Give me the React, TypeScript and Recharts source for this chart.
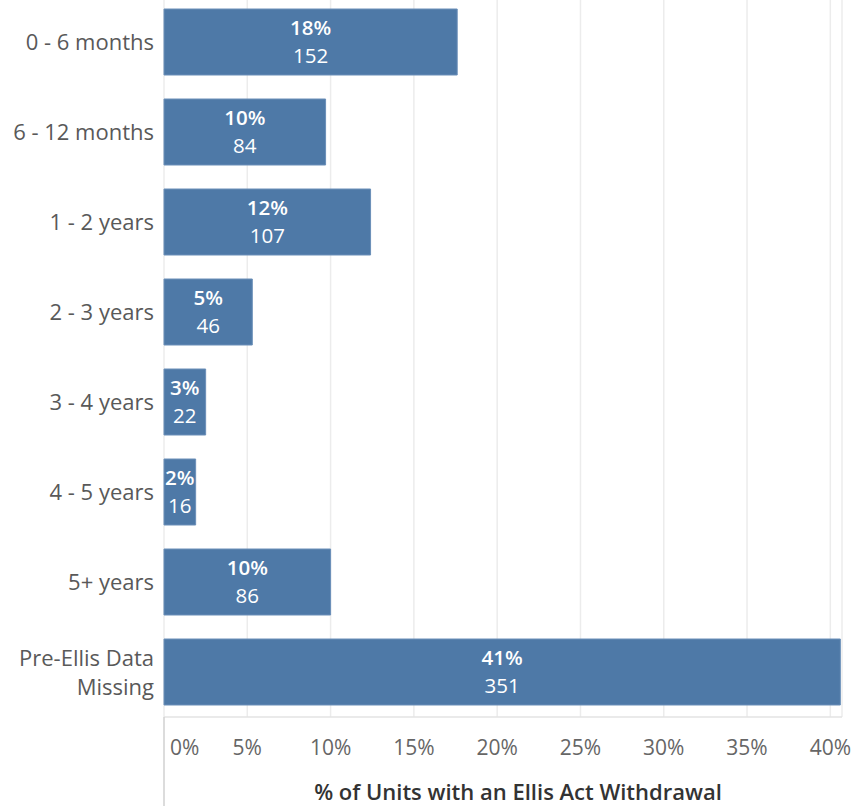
import { BarChart, Bar, XAxis, YAxis, CartesianGrid, LabelList } from 'recharts';

const categories = ['0 - 6 months', '6 - 12 months', '1 - 2 years', '2 - 3 years', '3 - 4 years', '4 - 5 years', '5+ years', 'Pre-Ellis Data\nMissing'];
const pctValues = [17.6, 9.7, 12.4, 5.3, 2.5, 1.9, 10.0, 40.6];
const pctLabels = ['18%', '10%', '12%', '5%', '3%', '2%', '10%', '41%'];
const counts = [152, 84, 107, 46, 22, 16, 86, 351];
const xTicks = [0, 5, 10, 15, 20, 25, 30, 35, 40];

const chartData = categories.map((name, i) => ({ name, pct: pctValues[i], count: counts[i] }));

const FONT = '"Open Sans", Lato, sans-serif';
const BLUE = '#4e79a7';

const YTick = ({ x, y, payload }: any) => {
  const lines = String(payload.value).split('\n');
  const start = -(lines.length - 1) * 14.5;
  return (
    <text x={x - 2} y={y} textAnchor="end" fill="#595959" fontSize={22} fontFamily={FONT}>
      {lines.map((l, i) => (
        <tspan key={i} x={x - 2} dy={i === 0 ? start + 8 : 29}>{l}</tspan>
      ))}
    </text>
  );
};

const XTick = ({ x, y, payload }: any) => {
  const v = payload.value;
  let anchor = 'middle';
  let dx = 0;
  if (v === 0) { anchor = 'start'; dx = 6; }
  return (
    <text x={x + dx} y={y + 30} textAnchor={anchor} fill="#666" fontSize={21} fontFamily={FONT}>
      {`${v}%`}
    </text>
  );
};

const AxisTitle = ({ viewBox }: any) => {
  const { x, y, width, height } = viewBox;
  return (
    <g>
      <line x1={x} x2={x} y1={y} y2={y + height} stroke="#d0d0d0" strokeWidth={1.5} />
      <text x={x + width / 2 + 15} y={y + height - 6} textAnchor="middle" fill="#333" fontSize={22} fontWeight={600} fontFamily={FONT}>
        % of Units with an Ellis Act Withdrawal
      </text>
    </g>
  );
};

const BarLabel = ({ x, y, width, height, index }: any) => {
  const cx = x + width / 2;
  const cy = y + height / 2;
  return (
    <g fontFamily={FONT} textAnchor="middle">
      <text x={cx} y={cy - 7} fontSize={20.5} fontWeight={600} fill="#fff">{pctLabels[index]}</text>
      <text x={cx} y={cy + 21} fontSize={20.5} fill="#fff">{counts[index]}</text>
    </g>
  );
};

export default function App() {
  return (
    <div style={{ position: 'absolute', top: -3, left: 0, background: '#fff' }}>
      <BarChart
        width={856}
        height={809}
        data={chartData}
        layout="vertical"
        margin={{ top: 0, right: 14, bottom: 0, left: 0 }}
        barCategoryGap={12}
      >
        <CartesianGrid horizontal={false} stroke="#ececec" strokeWidth={1.5} />
        <XAxis
          type="number"
          domain={[0, 40.7]}
          ticks={xTicks}
          tick={<XTick />}
          tickLine={false}
          axisLine={{ stroke: '#e3e3e3', strokeWidth: 1.5 }}
          height={89}
          interval={0}
          label={<AxisTitle />}
        />
        <YAxis
          type="category"
          dataKey="name"
          width={164}
          tick={<YTick />}
          tickLine={false}
          axisLine={false}
          interval={0}
        />
        <Bar dataKey="pct" fill={BLUE} stroke="#6a8fb8" strokeWidth={1} isAnimationActive={false}>
          <LabelList dataKey="count" content={<BarLabel />} />
        </Bar>
      </BarChart>
    </div>
  );
}
